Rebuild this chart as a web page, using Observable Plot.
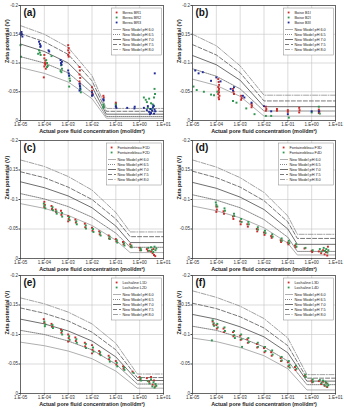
<!DOCTYPE html>
<html>
<head>
<meta charset="utf-8">
<script src="https://cdn.jsdelivr.net/npm/d3@7"></script>
<script src="https://cdn.jsdelivr.net/npm/@observablehq/plot@0.6"></script>
<style>
  body { margin: 0; background: #fff; }
  #fig { position: relative; width: 344px; height: 410px; overflow: hidden;
         font-family: "Liberation Sans", Arial, sans-serif; }
  .panel { position: absolute; }
  .panel svg { overflow: visible; }
</style>
</head>
<body>
<div id="fig"></div>
<script>
// ---- axis ticks -------------------------------------------------------------
const concTicks = [1e-5, 1e-4, 1e-3, 1e-2, 1e-1, 1, 10];
const zetaTicks = [0, -0.05, -0.1, -0.15, -0.2];
const pHLabels = ["New Model pH 6.0", "New Model pH 6.5", "New Model pH 7.0", "New Model pH 7.5", "New Model pH 8.0"];

// ---- model curves: concentration nodes and zeta (V) per pH 6.0 … 8.0 --------
const concA = [1e-5, 1e-4, 1e-3, 1e-2, 0.04, 10];
const modelA = [
  [-0.092, -0.082, -0.067, -0.038, -0.004, -0.004],
  [-0.111, -0.100, -0.083, -0.048, -0.007, -0.007],
  [-0.133, -0.120, -0.100, -0.059, -0.011, -0.011],
  [-0.151, -0.137, -0.115, -0.069, -0.016, -0.016],
  [-0.165, -0.150, -0.127, -0.078, -0.021, -0.021]
];
const concB = [1e-5, 1e-4, 1e-3, 1e-2, 10];
const modelB = [
  [-0.072, -0.061, -0.042, -0.0076, -0.0076],
  [-0.090, -0.077, -0.055, -0.0165, -0.0165],
  [-0.113, -0.097, -0.070, -0.024, -0.024],
  [-0.132, -0.114, -0.083, -0.034, -0.034],
  [-0.150, -0.130, -0.095, -0.044, -0.044]
];
const concC = [1e-5, 1e-4, 1e-3, 1e-2, 1e-1, 0.4, 10];
const modelC = [
  [-0.093, -0.085, -0.073, -0.056, -0.031, -0.010, -0.010],
  [-0.110, -0.101, -0.088, -0.070, -0.043, -0.019, -0.019],
  [-0.130, -0.120, -0.106, -0.086, -0.055, -0.027, -0.027],
  [-0.147, -0.137, -0.121, -0.100, -0.067, -0.037, -0.037],
  [-0.167, -0.156, -0.139, -0.116, -0.078, -0.045, -0.045]
];
const concD = [1e-5, 1e-4, 1e-3, 1e-2, 1e-1, 0.25, 10];
const modelD = [
  [-0.089, -0.081, -0.069, -0.052, -0.026, -0.006, -0.006],
  [-0.108, -0.099, -0.086, -0.066, -0.036, -0.012, -0.012],
  [-0.129, -0.119, -0.104, -0.083, -0.050, -0.024, -0.024],
  [-0.148, -0.137, -0.121, -0.098, -0.062, -0.034, -0.034],
  [-0.167, -0.155, -0.137, -0.112, -0.072, -0.041, -0.041]
];
const concE = [1e-5, 1e-4, 1e-3, 1e-2, 1e-1, 0.8, 10];
const modelE = [
  [-0.087, -0.081, -0.072, -0.059, -0.038, -0.009, -0.009],
  [-0.107, -0.100, -0.089, -0.074, -0.050, -0.016, -0.016],
  [-0.126, -0.118, -0.106, -0.089, -0.062, -0.022, -0.022],
  [-0.145, -0.136, -0.123, -0.104, -0.074, -0.027, -0.027],
  [-0.162, -0.152, -0.138, -0.118, -0.085, -0.033, -0.033]
];
const concF = [1e-5, 1e-4, 1e-3, 1e-2, 1e-1, 0.63, 10];
const modelF = [
  [-0.094, -0.088, -0.078, -0.064, -0.042, -0.006, -0.006],
  [-0.114, -0.107, -0.095, -0.079, -0.055, -0.015, -0.015],
  [-0.134, -0.126, -0.113, -0.096, -0.069, -0.021, -0.021],
  [-0.153, -0.144, -0.130, -0.111, -0.081, -0.026, -0.026],
  [-0.174, -0.163, -0.148, -0.127, -0.094, -0.032, -0.032]
];

// ---- measured zeta potential: [concentration mol/dm3, zeta V] ----------------
const bereaBR1 = [[1e-4,-0.114],[1e-4,-0.108],[1.1e-4,-0.104],[1.05e-4,-0.1],[1.1e-4,-0.097],[1e-4,-0.094],[1.15e-4,-0.09],[9.5e-5,-0.075],[1.05e-4,-0.099],
  [1e-3,-0.131],[1.05e-3,-0.126],[1e-3,-0.122],[1.1e-3,-0.118],[1e-3,-0.114],[1.05e-3,-0.111],
  [3e-3,-0.093],[3.1e-3,-0.087],[3e-3,-0.08],[3.2e-3,-0.074],[3e-3,-0.068],[3.1e-3,-0.064],
  [1e-2,-0.058],[1e-2,-0.052],[1.05e-2,-0.046],[3e-2,-0.043],[3.1e-2,-0.04],[1e-1,-0.031],[1e-1,-0.029]];
const bereaBR2 = [[1e-5,-0.131],[1.05e-5,-0.111],[6e-5,-0.122],[6.5e-5,-0.118],[7e-5,-0.114],[5.5e-5,-0.116],
  [1.2e-4,-0.105],[1.3e-4,-0.1],[1.4e-4,-0.095],[1.3e-4,-0.093],[2e-4,-0.112],
  [5e-4,-0.096],[5.5e-4,-0.09],[4.8e-4,-0.086],[5.2e-4,-0.084],
  [1.1e-3,-0.078],[1.15e-3,-0.073],[1.2e-3,-0.069],[1.1e-3,-0.059],
  [3.2e-3,-0.059],[3.3e-3,-0.054],[3.4e-3,-0.049],
  [3e-2,-0.028],[3.1e-2,-0.025],[3e-2,-0.022],[1e-1,-0.028],[1e-1,-0.024],
  [1.5,-0.04],[1.8,-0.036],[2,-0.032],[2.5,-0.038],[3,-0.03],[3.5,-0.028],[4,-0.025],[4.2,-0.055],[4.4,-0.046],[4,-0.04],[3.2,-0.02],[2.2,-0.022]];
const bereaBR3 = [[1e-5,-0.152],[1.05e-5,-0.149],[1.1e-5,-0.154],[1.2e-5,-0.146],[1.15e-5,-0.15],
  [6e-5,-0.137],[6.5e-5,-0.133],[7e-5,-0.13],[6.8e-5,-0.128],[1.5e-4,-0.122],[1.6e-4,-0.12],
  [4.8e-4,-0.105],[5e-4,-0.1],[5.3e-4,-0.097],[5.5e-4,-0.102],
  [1e-3,-0.087],[1.05e-3,-0.082],[1.1e-3,-0.078],
  [3e-3,-0.064],[3.1e-3,-0.06],[3.2e-3,-0.056],[3e-3,-0.052],
  [1e-2,-0.049],[1.05e-2,-0.045],[1e-2,-0.043],[3e-2,-0.037],[3.1e-2,-0.035],
  [1e-1,-0.025],[1.05e-1,-0.022],[3e-1,-0.022],[6e-1,-0.021],[6.2e-1,-0.024],
  [1.5,-0.022],[2,-0.018],[2.2,-0.025],[2.5,-0.015],[2.8,-0.02],[3,-0.013],[3.3,-0.017],[3.6,-0.023],[4,-0.012],[4.2,-0.019],[4.5,-0.016],[4.3,-0.082],[2.7,-0.011],[3.8,-0.026]];

const boiseB1I = [[1.2e-4,-0.072],[1.25e-4,-0.067],[1.3e-4,-0.062],[1.2e-4,-0.058],[1.3e-4,-0.055],[1.25e-4,-0.052],[1.3e-4,-0.049],[1.2e-4,-0.046],[1.35e-4,-0.043],[1.25e-4,-0.04],[1.3e-4,-0.037],
  [5e-4,-0.055],[5.3e-4,-0.05],[5.5e-4,-0.046],[1.1e-3,-0.043],[1.15e-3,-0.039],[1.1e-3,-0.036],
  [3e-3,-0.029],[3.1e-3,-0.026],[3e-3,-0.023],[1.2e-2,-0.024],[1.25e-2,-0.02],[1.2e-2,-0.017],
  [3.5e-2,-0.02],[3.5e-2,-0.017],[1e-1,-0.018],[1e-1,-0.015],[3e-1,-0.022],[3.1e-1,-0.018],[3e-1,-0.014],
  [2,-0.019],[2.1,-0.016],[2,-0.013]];
const boiseB2I = [[1.1e-5,-0.059],[1.5e-5,-0.053],[3e-5,-0.05],[6e-5,-0.045],[8e-5,-0.044],[1.1e-4,-0.05],[5e-4,-0.034],[7e-4,-0.031],
  [1.8e-3,-0.021],[4e-3,-0.011],[1.2e-2,-0.008],[2e-2,-0.008],[1.1e-1,-0.005],[1,-0.014],[2,-0.024],[2.2,-0.012]];
const boiseB3I = [[1.3e-5,-0.087],[1.8e-5,-0.082],[2.7e-5,-0.084],[6e-5,-0.069],[1e-4,-0.075],[1.5e-4,-0.068],[4e-4,-0.055],[5e-4,-0.052],[5.5e-4,-0.058],
  [1.3e-3,-0.043],[1.5e-3,-0.04],[3e-3,-0.031],[1e-2,-0.025],[2e-2,-0.016],[1e-1,-0.011],[1,-0.016],[2,-0.016]];

const fontF1D = [[1e-4,-0.096],[1.05e-4,-0.091],[1e-4,-0.087],[2e-4,-0.089],[2.1e-4,-0.084],[3e-4,-0.083],[3.1e-4,-0.079],[5e-4,-0.081],[5.2e-4,-0.074],
  [1e-3,-0.072],[1.05e-3,-0.067],[1e-3,-0.063],[2e-3,-0.066],[2.1e-3,-0.061],[5e-3,-0.059],[5.2e-3,-0.053],[1e-2,-0.052],[1.05e-2,-0.047],
  [2e-2,-0.046],[2.1e-2,-0.041],[5e-2,-0.039],[5.2e-2,-0.034],[1e-1,-0.033],[1.05e-1,-0.029],[2e-1,-0.028],[2.1e-1,-0.024],[4e-1,-0.024],[4.2e-1,-0.02],
  [1,-0.018],[1.05,-0.014],[2,-0.016],[2.2,-0.013],[3,-0.012],[3.5,-0.009],[4,-0.006],[4.5,-0.004],[3.8,-0.016]];
const fontF2D = [[9.5e-5,-0.093],[1e-4,-0.089],[1.1e-4,-0.085],[2.2e-4,-0.087],[2.3e-4,-0.082],[3.2e-4,-0.08],[3.3e-4,-0.076],[5.5e-4,-0.077],[5.6e-4,-0.071],
  [1.1e-3,-0.07],[1.15e-3,-0.065],[2.2e-3,-0.063],[2.3e-3,-0.058],[5.5e-3,-0.056],[5.6e-3,-0.051],[1.1e-2,-0.05],[1.15e-2,-0.045],
  [2.2e-2,-0.044],[2.3e-2,-0.039],[5.5e-2,-0.037],[5.6e-2,-0.033],[1.1e-1,-0.031],[1.15e-1,-0.027],[2.2e-1,-0.026],[2.3e-1,-0.022],[4.5e-1,-0.022],[4.6e-1,-0.019],
  [1.1,-0.017],[1.15,-0.014],[2.3,-0.018],[2.5,-0.013],[3,-0.019],[3.3,-0.015],[3.7,-0.011],[4.2,-0.02],[4.6,-0.014],[5,-0.017]];

const fontF3D = [[1e-4,-0.088],[1.05e-4,-0.083],[1e-4,-0.079],[2e-4,-0.08],[2.1e-4,-0.076],[5e-4,-0.071],[5.2e-4,-0.067],[1e-3,-0.063],[1.05e-3,-0.058],
  [2e-3,-0.058],[2.1e-3,-0.054],[5e-3,-0.05],[5.2e-3,-0.046],[1e-2,-0.044],[1.05e-2,-0.04],[2e-2,-0.038],[2.1e-2,-0.035],[5e-2,-0.031],[5.2e-2,-0.028],
  [1e-1,-0.027],[1.05e-1,-0.024],[2e-1,-0.022],[2.1e-1,-0.019],[5e-1,-0.017],[1,-0.013],[1.05,-0.011],
  [2,-0.012],[2.5,-0.009],[3,-0.014],[3.5,-0.007],[4,-0.011],[4.5,-0.005],[4.8,-0.02]];
const fontF4D = [[9.5e-5,-0.095],[1e-4,-0.091],[1.1e-4,-0.088],[2.2e-4,-0.085],[2.3e-4,-0.081],[5.5e-4,-0.076],[5.6e-4,-0.072],[1.1e-3,-0.067],[1.15e-3,-0.062],
  [2.2e-3,-0.062],[2.3e-3,-0.058],[5.5e-3,-0.053],[5.6e-3,-0.049],[1.1e-2,-0.047],[1.15e-2,-0.043],[2.2e-2,-0.041],[2.3e-2,-0.037],[5.5e-2,-0.034],[5.6e-2,-0.03],
  [1.1e-1,-0.03],[1.15e-1,-0.026],[2.2e-1,-0.024],[2.3e-1,-0.02],[5.5e-1,-0.018],[1.1,-0.014],
  [2.2,-0.016],[2.6,-0.012],[3.2,-0.018],[3.6,-0.013],[4.1,-0.016],[4.6,-0.01],[5,-0.014]];

const lochL1D = [[9.5e-5,-0.126],[1e-4,-0.12],[2e-4,-0.118],[2.1e-4,-0.113],[5e-4,-0.108],[5.2e-4,-0.103],[1e-3,-0.1],[1.05e-3,-0.094],[1e-3,-0.088],
  [2e-3,-0.095],[2.1e-3,-0.089],[5e-3,-0.086],[5.2e-3,-0.08],[1e-2,-0.082],[1.05e-2,-0.074],[1e-2,-0.068],[2e-2,-0.072],[2.1e-2,-0.067],
  [5e-2,-0.064],[5.2e-2,-0.058],[1e-1,-0.055],[1.05e-1,-0.049],[2e-1,-0.046],[2.1e-1,-0.042],[5e-1,-0.037],[1,-0.028],[1.05,-0.024],
  [2,-0.026],[2.5,-0.02],[3,-0.028],[3.5,-0.015],[4,-0.022],[4.5,-0.012]];
const lochL2D = [[1e-4,-0.122],[1.1e-4,-0.117],[1.05e-4,-0.114],[2.2e-4,-0.116],[2.3e-4,-0.111],[5.5e-4,-0.106],[5.6e-4,-0.1],[1.1e-3,-0.097],[1.15e-3,-0.091],
  [2.2e-3,-0.092],[2.3e-3,-0.086],[5.5e-3,-0.084],[5.6e-3,-0.077],[1.1e-2,-0.078],[1.15e-2,-0.071],[2.2e-2,-0.07],[2.3e-2,-0.065],
  [5.5e-2,-0.061],[5.6e-2,-0.054],[1.1e-1,-0.052],[1.15e-1,-0.046],[2.2e-1,-0.044],[2.3e-1,-0.04],[5.5e-1,-0.035],[1.1,-0.026],[1.15,-0.022],
  [2.2,-0.021],[2.6,-0.017],[3,-0.024],[3.4,-0.012],[3.8,-0.019],[4.2,-0.01],[4.6,-0.016],[5,-0.013]];

const lochL3D = [[7e-5,-0.122],[7.5e-5,-0.117],[1e-4,-0.116],[1.05e-4,-0.11],[2e-4,-0.11],[2.1e-4,-0.104],[5e-4,-0.104],[5.2e-4,-0.097],[1e-3,-0.098],[1.05e-3,-0.091],
  [2e-3,-0.092],[2.1e-3,-0.086],[5e-3,-0.084],[5.2e-3,-0.078],[1e-2,-0.077],[1.05e-2,-0.07],[2e-2,-0.07],[2.1e-2,-0.064],[5e-2,-0.06],[5.2e-2,-0.055],
  [1e-1,-0.053],[1.05e-1,-0.046],[2e-1,-0.045],[2.1e-1,-0.04],[5e-1,-0.03],[1,-0.022],[1.05,-0.019],
  [2,-0.021],[2.5,-0.016],[3,-0.02],[3.5,-0.013],[4,-0.018],[4.5,-0.011]];
const lochL4D = [[6.5e-5,-0.09],[7e-5,-0.124],[7.8e-5,-0.119],[8e-5,-0.115],[1.1e-4,-0.118],[1.15e-4,-0.112],[2.2e-4,-0.112],[2.3e-4,-0.106],
  [5.5e-4,-0.106],[5.6e-4,-0.099],[6e-4,-0.094],[1.1e-3,-0.1],[1.15e-3,-0.092],[1.2e-3,-0.079],[2.2e-3,-0.094],[2.3e-3,-0.087],
  [5.5e-3,-0.086],[5.6e-3,-0.079],[1.1e-2,-0.079],[1.15e-2,-0.072],[2.2e-2,-0.073],[2.3e-2,-0.066],[5.5e-2,-0.062],[5.6e-2,-0.056],
  [1.1e-1,-0.055],[1.15e-1,-0.048],[1.2e-1,-0.044],[2.2e-1,-0.047],[2.3e-1,-0.042],[5.5e-1,-0.032],[5.6e-1,-0.028],[1.1,-0.024],[1.15,-0.02],
  [2.2,-0.023],[2.6,-0.018],[3,-0.022],[3.4,-0.015],[3.8,-0.02],[4.2,-0.012],[4.6,-0.017],[5,-0.014]];

// ---- styling ----------------------------------------------------------------
const RED = "#cc2b2b", GREEN = "#2f9650", BLUE = "#1f2a9a";
const modelStyles = [
  {stroke: "#9a9a9a", dash: null},            // pH 6.0
  {stroke: "#666666", dash: "1,1"},           // pH 6.5
  {stroke: "#4a4a4a", dash: null},            // pH 7.0
  {stroke: "#555555", dash: "4,2"},           // pH 7.5
  {stroke: "#8a8a8a", dash: "5,1.5,1,1.5"}    // pH 8.0
];
const FONT = "Liberation Sans, Arial, sans-serif";

const panels = [
  {letter: "(a)", left: 0,   top: 0,   frameH: 115, conc: concA, model: modelA, legendW: 50,
   series: [{name: "Berea BR1", color: RED, data: bereaBR1}, {name: "Berea BR2", color: GREEN, data: bereaBR2}, {name: "Berea BR3", color: BLUE, data: bereaBR3}]},
  {letter: "(b)", left: 172, top: 0,   frameH: 115, conc: concB, model: modelB, legendW: 50,
   series: [{name: "Boise B1I", color: RED, data: boiseB1I}, {name: "Boise B2I", color: GREEN, data: boiseB2I}, {name: "Boise B3I", color: BLUE, data: boiseB3I}]},
  {letter: "(c)", left: 0,   top: 135, frameH: 118, conc: concC, model: modelC, legendW: 55,
   series: [{name: "Fontainebleau F1D", color: RED, data: fontF1D}, {name: "Fontainebleau F2D", color: GREEN, data: fontF2D}]},
  {letter: "(d)", left: 172, top: 135, frameH: 118, conc: concD, model: modelD, legendW: 55,
   series: [{name: "Fontainebleau F3D", color: RED, data: fontF3D}, {name: "Fontainebleau F4D", color: GREEN, data: fontF4D}]},
  {letter: "(e)", left: 0,   top: 270, frameH: 118, conc: concE, model: modelE, legendW: 50,
   series: [{name: "Lochaline L1D", color: RED, data: lochL1D}, {name: "Lochaline L2D", color: GREEN, data: lochL2D}]},
  {letter: "(f)", left: 172, top: 270, frameH: 118, conc: concF, model: modelF, legendW: 50,
   series: [{name: "Lochaline L3D", color: RED, data: lochL3D}, {name: "Lochaline L4D", color: GREEN, data: lochL4D}]}
];

const fmtConc = d => {
  const e = Math.round(Math.log10(d));
  return "1.E" + (e < 0 ? "-" : "+") + String(Math.abs(e)).padStart(2, "0");
};
const fmtZeta = d => (d === 0 ? "0" : String(d));

const M = {left: 20, right: 9, top: 5, bottom: 17};
const W = 172;

function drawPanel(p) {
  const H = M.top + p.frameH + M.bottom;
  const marks = [
    Plot.gridX(concTicks.slice(1, -1), {stroke: "#c4c4c4", strokeOpacity: 1, strokeWidth: 0.6}),
    Plot.gridY([-0.05, -0.1, -0.15], {stroke: "#c4c4c4", strokeOpacity: 1, strokeWidth: 0.6}),
    Plot.axisX({ticks: concTicks, tickFormat: fmtConc, tickSize: 1.5, tickPadding: 1, label: null, stroke: "#444"}),
    Plot.axisY({ticks: zetaTicks, tickFormat: fmtZeta, tickSize: 1.5, tickPadding: 1, label: null, stroke: "#444"})
  ];
  p.model.forEach((zs, i) => {
    const pts = p.conc.map((c, j) => ({c, z: zs[j]}));
    marks.push(Plot.line(pts, {x: "c", y: "z", stroke: modelStyles[i].stroke, strokeWidth: 0.8,
      strokeDasharray: modelStyles[i].dash || undefined}));
  });
  p.series.forEach(s => {
    marks.push(Plot.dot(s.data, {x: d => d[0], y: d => d[1], symbol: "square", r: 1.1, fill: s.color, stroke: "none"}));
  });
  marks.push(
    Plot.frame({stroke: "#444", strokeWidth: 0.8}),
    Plot.text([p.letter], {text: d => d, frameAnchor: "top-left", dx: 3, dy: 3, textAnchor: "start", lineAnchor: "top",
      fontSize: 10, fontWeight: "bold", fill: "#111"}),
    Plot.text(["Actual pore fluid concentration (mol/dm\u00B3)"], {text: d => d, frameAnchor: "bottom", dy: 11,
      lineAnchor: "middle", fontSize: 5.4, fontWeight: "bold", fill: "#222"}),
    Plot.text(["Zeta potential (V)"], {text: d => d, frameAnchor: "left", dx: -13, rotate: -90,
      lineAnchor: "middle", fontSize: 5.4, fontWeight: "bold", fill: "#222"})
  );

  const svg = Plot.plot({
    width: W, height: H,
    marginLeft: M.left, marginRight: M.right, marginTop: M.top, marginBottom: M.bottom,
    style: {fontFamily: FONT, fontSize: "4.5px", background: "transparent", color: "#333"},
    x: {type: "log", domain: [1e-5, 10]},
    y: {domain: [0, -0.2]},
    marks
  });

  // legend box in the upper-right corner of the frame
  const rowH = 5;
  const nS = p.series.length;
  const boxH = 4 + nS * rowH + 2 + pHLabels.length * rowH + 1;
  const bx = W - M.right - p.legendW - 1.5, by = M.top + 3;
  const g = d3.select(svg).append("g").attr("transform", `translate(${bx},${by})`)
    .attr("text-anchor", "start")
    .style("font-family", FONT).style("font-size", "3.8px");
  g.append("rect").attr("width", p.legendW).attr("height", boxH)
    .attr("fill", "#fff").attr("stroke", "#888").attr("stroke-width", 0.5);
  p.series.forEach((s, i) => {
    const y = 4.5 + i * rowH;
    g.append("rect").attr("x", 4.2).attr("y", y - 0.9).attr("width", 1.8).attr("height", 1.8).attr("fill", s.color);
    g.append("text").attr("x", 11).attr("y", y).attr("dy", "0.35em").attr("fill", "#222").text(s.name);
  });
  pHLabels.forEach((lab, i) => {
    const y = 4.5 + nS * rowH + 2 + i * rowH;
    g.append("line").attr("x1", 1.5).attr("x2", 9.5).attr("y1", y).attr("y2", y)
      .attr("stroke", modelStyles[i].stroke).attr("stroke-width", 0.8)
      .attr("stroke-dasharray", modelStyles[i].dash);
    g.append("text").attr("x", 11).attr("y", y).attr("dy", "0.35em").attr("fill", "#222").text(lab);
  });

  const div = document.createElement("div");
  div.className = "panel";
  div.style.left = p.left + "px";
  div.style.top = p.top + "px";
  div.appendChild(svg);
  document.getElementById("fig").appendChild(div);
}

panels.forEach(drawPanel);
</script>
</body>
</html>
